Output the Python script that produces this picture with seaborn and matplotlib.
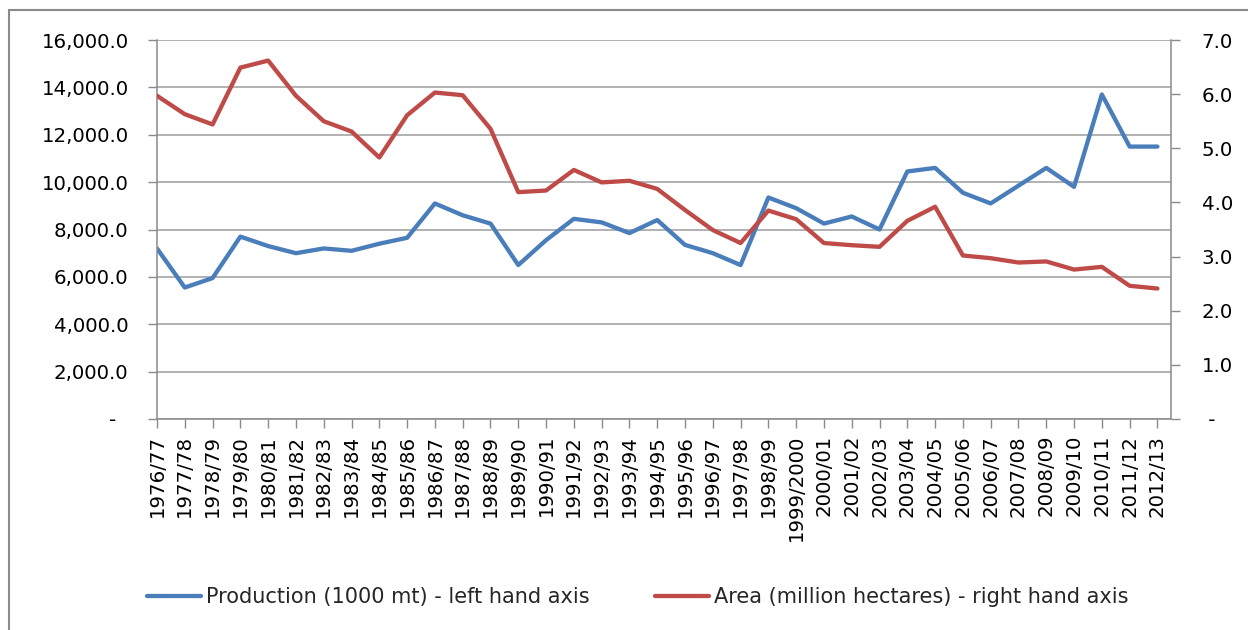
import matplotlib
matplotlib.use("Agg")
import matplotlib.pyplot as plt
from matplotlib.lines import Line2D
import seaborn as sns
import pandas as pd

seasons = ["1976/77", "1977/78", "1978/79", "1979/80", "1980/81", "1981/82", "1982/83",
           "1983/84", "1984/85", "1985/86", "1986/87", "1987/88", "1988/89", "1989/90",
           "1990/91", "1991/92", "1992/93", "1993/94", "1994/95", "1995/96", "1996/97",
           "1997/98", "1998/99", "1999/2000", "2000/01", "2001/02", "2002/03", "2003/04",
           "2004/05", "2005/06", "2006/07", "2007/08", "2008/09", "2009/10", "2010/11",
           "2011/12", "2012/13"]
production = [7200, 5550, 5950, 7700, 7300, 7000, 7200, 7100, 7400, 7650, 9100, 8600,
              8250, 6500, 7550, 8450, 8300, 7850, 8400, 7350, 7000, 6500, 9350, 8900,
              8250, 8550, 8000, 10450, 10600, 9550, 9100, 9850, 10600, 9800, 13700,
              11500, 11500]
area = [5.97, 5.63, 5.44, 6.49, 6.62, 5.97, 5.50, 5.31, 4.83, 5.61, 6.03, 5.98, 5.36,
        4.19, 4.22, 4.60, 4.37, 4.40, 4.25, 3.86, 3.49, 3.25, 3.85, 3.69, 3.25, 3.21,
        3.18, 3.66, 3.92, 3.02, 2.97, 2.89, 2.91, 2.76, 2.81, 2.46, 2.41]
left_ticks = [0, 2000, 4000, 6000, 8000, 10000, 12000, 14000, 16000]
right_ticks = [0, 1, 2, 3, 4, 5, 6, 7]
prod_label = "Production (1000 mt) - left hand axis"
area_label = "Area (million hectares) - right hand axis"

sns.set_theme(style="white")
plt.rcParams["font.family"] = ["DejaVu Sans"]
FS = 14.2
BLUE = "#4A7EBB"
RED = "#BE4B48"
GRID = "#9c9c9c"
AXC = "#8a8a8a"

df = pd.DataFrame({"season": seasons, "production": production, "area": area})

fig = plt.figure(figsize=(12.48, 6.30), dpi=100)
ax = fig.add_axes([157 / 1248, 1 - 419 / 630, (1170.5 - 157) / 1248, (419 - 40) / 630])
ax2 = ax.twinx()

sns.lineplot(data=df, x="season", y="production", ax=ax, color=BLUE, linewidth=3.1,
             sort=False, legend=False)
sns.lineplot(data=df, x="season", y="area", ax=ax2, color=RED, linewidth=3.1,
             sort=False, legend=False)

n = len(seasons)
ax.set_xlim(0, 36.47)
ax2.set_xlim(0, 36.47)
ax.set_ylim(0, 16000)
ax2.set_ylim(0, 7)

ax.set_yticks(left_ticks)
ax.set_yticklabels(["-  "] + [f"{v:,.1f}" for v in left_ticks[1:]], fontsize=FS)
ax2.set_yticks(right_ticks)
ax2.set_yticklabels([" -"] + [f"{v:.1f}" for v in right_ticks[1:]], fontsize=FS)
ax.set_xticks(range(n))
ax.set_xticklabels(seasons, rotation=90, fontsize=FS)
ax.set_xlabel("")
ax.set_ylabel("")
ax2.set_ylabel("")

ax.yaxis.grid(True, color=GRID, linewidth=1.1)
ax.xaxis.grid(False)
ax2.grid(False)

for s in ["top", "right"]:
    ax.spines[s].set_visible(False)
for s in ["top", "left", "bottom"]:
    ax2.spines[s].set_visible(False)
for sp in [ax.spines["left"], ax.spines["bottom"], ax2.spines["right"]]:
    sp.set_color(AXC)
    sp.set_linewidth(1.1)

ax.tick_params(axis="y", which="major", direction="out", length=6.5, width=1.0,
               color=AXC, pad=14, left=True, labelcolor="black")
ax.tick_params(axis="x", which="major", direction="out", length=6.5, width=1.0,
               color=AXC, pad=5, bottom=True, labelcolor="black")
ax2.tick_params(axis="y", which="major", direction="out", length=6.5, width=1.0,
                color=AXC, pad=16, right=True, labelcolor="black")

handles = [Line2D([0], [0], color=BLUE, linewidth=3.1),
           Line2D([0], [0], color=RED, linewidth=3.1)]
fig.legend(handles, [prod_label, area_label], loc="center", ncol=2,
           bbox_to_anchor=(0.511, 1 - 597 / 630), frameon=False, fontsize=15,
           handlelength=2.6, handletextpad=0.25, columnspacing=3.1)

# outer chart border (partly outside the image)
fig.add_artist(Line2D([9 / 1248, 1.0], [1 - 10 / 630, 1 - 10 / 630],
                      transform=fig.transFigure, color=AXC, linewidth=1.5))
fig.add_artist(Line2D([9 / 1248, 9 / 1248], [0.0, 1 - 10 / 630],
                      transform=fig.transFigure, color=AXC, linewidth=1.5))

fig.savefig("out.png", dpi=100)
